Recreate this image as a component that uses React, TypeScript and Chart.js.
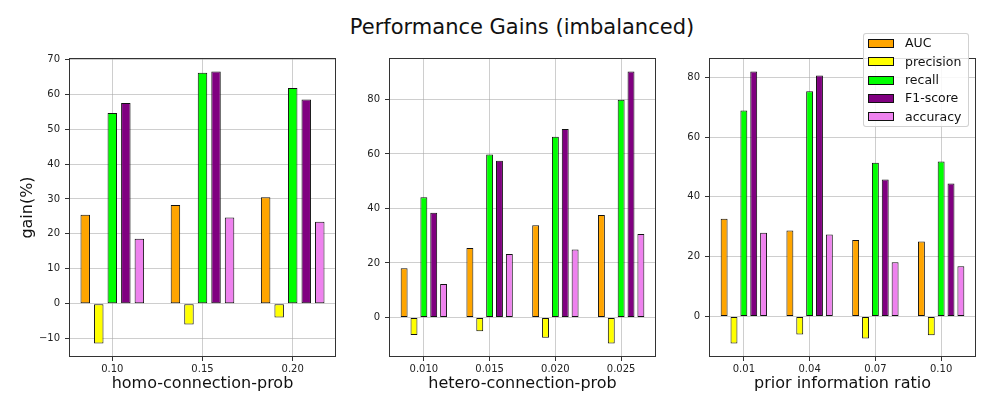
import React, { useEffect, useRef } from 'react';
import { Chart, registerables } from 'chart.js';

Chart.register(...registerables);

// ---- data ----
const metrics = ['AUC', 'precision', 'recall', 'F1-score', 'accuracy'];
const metricColors = ['#FFA500', '#FFFF00', '#00FF00', '#800080', '#EE82EE'];

const homoProbs = [0.1, 0.15, 0.2];
const homoTickLabels = ['0.10', '0.15', '0.20'];
const homoAUC = [25.5, 28.3, 30.5];
const homoPrecision = [-11.4, -6.0, -4.0];
const homoRecall = [54.6, 66.2, 61.8];
const homoF1 = [57.5, 66.5, 58.5];
const homoAccuracy = [18.6, 24.7, 23.5];

const heteroProbs = [0.01, 0.015, 0.02, 0.025];
const heteroTickLabels = ['0.010', '0.015', '0.020', '0.025'];
const heteroAUC = [18.1, 25.5, 33.8, 37.6];
const heteroPrecision = [-6.4, -5.0, -7.4, -9.5];
const heteroRecall = [44.1, 59.8, 66.3, 79.9];
const heteroF1 = [38.4, 57.5, 69.1, 90.2];
const heteroAccuracy = [12.3, 23.3, 24.9, 30.6];

const priorRatios = [0.01, 0.04, 0.07, 0.1];
const priorTickLabels = ['0.01', '0.04', '0.07', '0.10'];
const priorAUC = [32.7, 28.8, 25.6, 25.1];
const priorPrecision = [-9.0, -6.0, -7.4, -6.3];
const priorRecall = [68.9, 75.3, 51.4, 51.8];
const priorF1 = [81.9, 80.6, 45.8, 44.5];
const priorAccuracy = [28.0, 27.4, 18.1, 16.8];

const chartTitle = 'Performance Gains (imbalanced)';
const yAxisTitle = 'gain(%)';

// ---- layout ----
const FONT = "'DejaVu Sans', sans-serif";
const CANVAS_TOP = 47;
const CANVAS_H = 363;
const PAD_TOP = 10;
const PLOT_H = 300;
const PAD_RIGHT = 10;

type Panel = {
  xs: number[];
  tickLabels: string[];
  series: number[][];
  xTitle: string;
  yTitle?: string;
  yStep: number;
  left: number;
  width: number;
  yAxisWidth: number;
  xPad: number;
};

const panels: Panel[] = [
  {
    xs: homoProbs,
    tickLabels: homoTickLabels,
    series: [homoAUC, homoPrecision, homoRecall, homoF1, homoAccuracy],
    xTitle: 'homo-connection-prob',
    yTitle: yAxisTitle,
    yStep: 10,
    left: 0,
    width: 346,
    yAxisWidth: 69,
    xPad: 0.48,
  },
  {
    xs: heteroProbs,
    tickLabels: heteroTickLabels,
    series: [heteroAUC, heteroPrecision, heteroRecall, heteroF1, heteroAccuracy],
    xTitle: 'hetero-connection-prob',
    yStep: 20,
    left: 339,
    width: 327,
    yAxisWidth: 50,
    xPad: 0.53,
  },
  {
    xs: priorRatios,
    tickLabels: priorTickLabels,
    series: [priorAUC, priorPrecision, priorRecall, priorF1, priorAccuracy],
    xTitle: 'prior information ratio',
    yStep: 20,
    left: 659,
    width: 327,
    yAxisWidth: 50,
    xPad: 0.53,
  },
];

const framePlugin = {
  id: 'frame',
  afterDraw(chart: any) {
    const { ctx, chartArea: a } = chart;
    ctx.save();
    ctx.strokeStyle = '#333';
    ctx.lineWidth = 1;
    ctx.strokeRect(Math.round(a.left) + 0.5, Math.round(a.top) + 0.5, Math.round(a.width) - 1, Math.round(a.height) - 1);
    ctx.restore();
  },
};

function PanelChart({ p }: { p: Panel }) {
  const ref = useRef<HTMLCanvasElement | null>(null);
  useEffect(() => {
    if (!ref.current) return;
    const all = p.series.flat().concat([0]);
    const dMin = Math.min(...all);
    const dMax = Math.max(...all);
    const m = (dMax - dMin) * 0.05;
    const yMin = dMin - m;
    const yMax = dMax + m;
    const yTicks: number[] = [];
    for (let v = Math.ceil(yMin / p.yStep) * p.yStep; v <= yMax + 1e-9; v += p.yStep) yTicks.push(v);
    const spacing = p.xs[1] - p.xs[0];
    const xMin = p.xs[0] - spacing * p.xPad;
    const xMax = p.xs[p.xs.length - 1] + spacing * p.xPad;
    const xAxisH = CANVAS_H - PAD_TOP - PLOT_H;

    const chart = new Chart(ref.current, {
      type: 'bar',
      data: {
        datasets: metrics.map((name, k) => ({
          label: name,
          data: p.xs.map((x, i) => ({ x, y: p.series[k][i] })),
          backgroundColor: metricColors[k],
          borderColor: '#111',
          borderWidth: 1,
          borderSkipped: false,
          categoryPercentage: 0.75,
          barPercentage: 0.7,
        })),
      },
      options: {
        animation: false,
        responsive: false,
        maintainAspectRatio: false,
        events: [],
        layout: { padding: { top: PAD_TOP, right: PAD_RIGHT, left: 0, bottom: 0 } },
        plugins: { legend: { display: false }, tooltip: { enabled: false }, title: { display: false } },
        scales: {
          x: {
            type: 'linear',
            min: xMin,
            max: xMax,
            offset: false,
            z: 1,
            afterBuildTicks: (scale: any) => {
              scale.ticks = p.xs.map((v) => ({ value: v }));
            },
            afterFit: (scale: any) => {
              scale.height = xAxisH;
            },
            ticks: {
              autoSkip: false,
              maxRotation: 0,
              padding: 2,
              color: '#222',
              font: { family: FONT, size: 10 },
              callback: (v: any) => {
                const idx = p.xs.findIndex((x) => Math.abs(x - Number(v)) < 1e-9);
                return idx >= 0 ? p.tickLabels[idx] : '';
              },
            },
            grid: {
              offset: false,
              color: 'rgba(165,165,165,0.55)',
              lineWidth: 1,
              tickLength: 4,
              tickColor: '#333',
              drawTicks: true,
            },
            border: { display: false },
            title: {
              display: true,
              text: p.xTitle,
              color: '#111',
              font: { family: FONT, size: 16 },
              padding: { top: 0, bottom: 16.6 },
            },
          },
          y: {
            type: 'linear',
            min: yMin,
            max: yMax,
            z: 1,
            afterBuildTicks: (scale: any) => {
              scale.ticks = yTicks.map((v) => ({ value: v }));
            },
            afterFit: (scale: any) => {
              scale.width = p.yAxisWidth;
            },
            ticks: {
              autoSkip: false,
              padding: 5,
              color: '#222',
              font: { family: FONT, size: 10 },
              callback: (v: any) => String(Math.round(Number(v))).replace('-', '\u2212'),
            },
            grid: {
              color: 'rgba(165,165,165,0.55)',
              lineWidth: 1,
              tickLength: 4,
              tickColor: '#333',
              drawTicks: true,
            },
            border: { display: false },
            title: {
              display: !!p.yTitle,
              text: p.yTitle || '',
              color: '#111',
              font: { family: FONT, size: 16 },
              padding: { top: 18, bottom: 0 },
            },
          },
        },
      },
      plugins: [framePlugin],
    } as any);
    return () => chart.destroy();
  }, [p]);

  return (
    <canvas
      ref={ref}
      width={p.width}
      height={CANVAS_H}
      style={{ position: 'absolute', left: p.left, top: CANVAS_TOP, width: p.width, height: CANVAS_H }}
    />
  );
}

function Legend() {
  return (
    <div
      style={{
        position: 'absolute',
        left: 863,
        top: 33,
        width: 106,
        height: 94,
        boxSizing: 'border-box',
        border: '1px solid rgba(204,204,204,0.9)',
        borderRadius: 3,
        background: 'rgba(255,255,255,0.85)',
        zIndex: 2,
        fontFamily: FONT,
        fontSize: 12.5,
        color: '#111',
      }}
    >
      {metrics.map((name, k) => (
        <div
          key={name}
          style={{ position: 'absolute', left: 0, top: 0.3 + k * 18.35, height: 18, width: '100%', lineHeight: '18px' }}
        >
          <div
            style={{
              position: 'absolute',
              left: 4,
              top: 4.5,
              width: 26,
              height: 9,
              boxSizing: 'border-box',
              border: '1px solid #111',
              background: metricColors[k],
            }}
          />
          <span style={{ position: 'absolute', left: 41, top: 0, whiteSpace: 'nowrap' }}>{name}</span>
        </div>
      ))}
    </div>
  );
}

export default function App() {
  return (
    <div style={{ position: 'absolute', left: 0, top: 0, width: 992, height: 410, background: '#fff', overflow: 'hidden' }}>
      <div
        style={{
          position: 'absolute',
          left: 222,
          top: 17,
          width: 600,
          textAlign: 'center',
          fontFamily: FONT,
          fontSize: 21,
          lineHeight: '20px',
          color: '#111',
          whiteSpace: 'nowrap',
        }}
      >
        {chartTitle}
      </div>
      {panels.map((p) => (
        <PanelChart key={p.xTitle} p={p} />
      ))}
      <Legend />
    </div>
  );
}
